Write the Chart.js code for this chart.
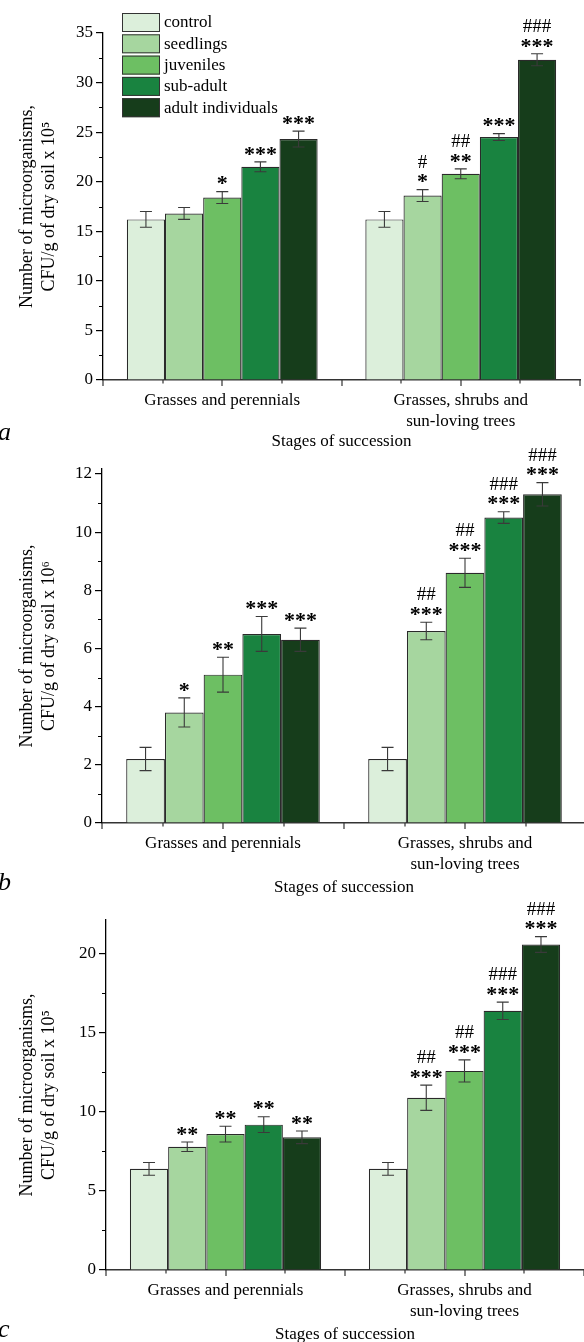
<!DOCTYPE html>
<html>
<head>
<meta charset="utf-8">
<script src="https://cdn.jsdelivr.net/npm/chart.js@4.4.0/dist/chart.umd.min.js"></script>
<style>
  html, body { margin: 0; padding: 0; background: #fff; }
  #page { position: relative; width: 584px; height: 1342px; overflow: hidden; background: #fff; }
  canvas { position: absolute; left: 0; }
</style>
</head>
<body>
<div id="page">
  <canvas id="chart-a" width="590" height="452" style="top:0px"></canvas>
  <canvas id="chart-b" width="590" height="450" style="top:448px"></canvas>
  <canvas id="chart-c" width="590" height="452" style="top:893px"></canvas>
</div>
<script>
const FONT = "'Liberation Serif', 'Times New Roman', serif";

const stages = ["Grasses and perennials", ["Grasses, shrubs and", "sun-loving trees"]];
const groups = ["control", "seedlings", "juveniles", "sub-adult", "adult individuals"];
const groupColors = ["#dcefdb", "#a6d69f", "#6dbf63", "#198340", "#163d1b"];

// panel a, x 10^5
const aTicks = [0, 5, 10, 15, 20, 25, 30, 35];
const aMeans = [[16.2, 16.2], [16.8, 18.6], [18.4, 20.8], [21.5, 24.5], [24.3, 32.3]];
const aErrors = [[0.8, 0.8], [0.6, 0.6], [0.6, 0.5], [0.5, 0.35], [0.8, 0.6]];
const aStars = [["", ""], ["", "*"], ["*", "**"], ["***", "***"], ["***", "***"]];
const aHashes = [["", ""], ["", "#"], ["", "##"], ["", ""], ["", "###"]];

// panel b, x 10^6
const bTicks = [0, 2, 4, 6, 8, 10, 12];
const bMeans = [[2.2, 2.2], [3.8, 6.6], [5.1, 8.6], [6.5, 10.5], [6.3, 11.3]];
const bErrors = [[0.4, 0.4], [0.5, 0.3], [0.6, 0.5], [0.6, 0.2], [0.4, 0.4]];
const bStars = [["", ""], ["*", "***"], ["**", "***"], ["***", "***"], ["***", "***"]];
const bHashes = [["", ""], ["", "##"], ["", "##"], ["", "###"], ["", "###"]];

// panel c, x 10^5
const cTicks = [0, 5, 10, 15, 20];
const cMeans = [[6.4, 6.4], [7.8, 10.9], [8.6, 12.6], [9.2, 16.4], [8.4, 20.6]];
const cErrors = [[0.4, 0.4], [0.3, 0.8], [0.5, 0.7], [0.5, 0.55], [0.4, 0.5]];
const cStars = [["", ""], ["**", "***"], ["**", "***"], ["**", "***"], ["**", "***"]];
const cHashes = [["", ""], ["", "##"], ["", "##"], ["", "###"], ["", "###"]];

const extrasPlugin = {
  id: "extras",
  afterDatasetsDraw(chart) {
    const p = chart.options.plugins.extras;
    const ctx = chart.ctx;
    const y = chart.scales.y;
    ctx.save();
    p.errors.forEach((errs, i) => {
      const meta = chart.getDatasetMeta(i);
      meta.data.forEach((bar, j) => {
        const v = chart.data.datasets[i].data[j];
        const top = y.getPixelForValue(v + errs[j]);
        const bot = y.getPixelForValue(v - errs[j]);
        ctx.strokeStyle = "#3a3a3a";
        ctx.lineWidth = 1.1;
        ctx.beginPath();
        ctx.moveTo(bar.x, top);
        ctx.lineTo(bar.x, bot);
        ctx.moveTo(bar.x - 6, top);
        ctx.lineTo(bar.x + 6, top);
        ctx.moveTo(bar.x - 6, bot);
        ctx.lineTo(bar.x + 6, bot);
        ctx.stroke();

        // significance marks
        ctx.fillStyle = "#000";
        ctx.textAlign = "center";
        ctx.textBaseline = "middle";
        ctx.font = "bold 22px " + FONT;
        if (p.stars[i][j]) ctx.fillText(p.stars[i][j], bar.x, top - 7);
        ctx.font = "19px " + FONT;
        if (p.hashes[i][j]) ctx.fillText(p.hashes[i][j], bar.x, top - 27);
      });
    });
    ctx.restore();
  },
  afterDraw(chart) {
    const p = chart.options.plugins.extras;
    const ctx = chart.ctx;
    const x = chart.scales.x;
    const y = chart.scales.y;
    ctx.save();

    // x ticks (major at centres and edges, minor in between)
    ctx.strokeStyle = "#333";
    ctx.lineWidth = 1.2;
    ctx.beginPath();
    [-0.5, -0.25, 0, 0.25, 0.5, 0.75, 1, 1.25, 1.5].forEach((t) => {
      const px = Math.round(x.getPixelForValue(t));
      const len = t % 0.5 === 0 ? 6 : 3.5;
      ctx.moveTo(px, y.bottom);
      ctx.lineTo(px, y.bottom + len);
    });
    ctx.stroke();

    // y minor ticks
    ctx.strokeStyle = "#000";
    ctx.beginPath();
    for (let v = p.minorStep; v < y.max; v += p.minorStep * 2) {
      const py = Math.round(y.getPixelForValue(v)) + 0.5;
      ctx.moveTo(y.right - 4, py);
      ctx.lineTo(y.right, py);
    }
    ctx.stroke();

    // legend inside panel a
    if (p.legend) {
      ctx.font = "17px " + FONT;
      ctx.textAlign = "left";
      ctx.textBaseline = "middle";
      chart.data.datasets.forEach((ds, i) => {
        const top = 13 + i * 21.3;
        ctx.fillStyle = ds.backgroundColor;
        ctx.fillRect(122, top, 38, 19);
        ctx.strokeStyle = "#333";
        ctx.lineWidth = 1;
        ctx.strokeRect(122.5, top + 0.5, 37, 18);
        ctx.fillStyle = "#000";
        ctx.fillText(ds.label, 164, top + 10);
      });
    }

    // panel letter
    ctx.font = "italic 26px " + FONT;
    ctx.fillStyle = "#000";
    ctx.textAlign = "left";
    ctx.textBaseline = "alphabetic";
    ctx.fillText(p.letter, -2, p.letterY);
    ctx.restore();
  },
};

function makeChart(id, cfg) {
  const canvas = document.getElementById(id);
  const datasets = groups.map((g, i) => ({
    label: g,
    data: cfg.means[i],
    backgroundColor: groupColors[i],
    borderColor: "#2a2a2a",
    borderWidth: 1.2,
    categoryPercentage: 0.8,
    barPercentage: 1.0,
  }));

  return new Chart(canvas.getContext("2d"), {
    type: "bar",
    data: { labels: stages, datasets },
    plugins: [extrasPlugin],
    options: {
      responsive: false,
      animation: false,
      devicePixelRatio: 1,
      layout: { padding: { top: cfg.area.top, left: 0, right: canvas.width - cfg.area.right, bottom: 0 } },
      plugins: {
        legend: { display: false },
        tooltip: { enabled: false },
        extras: {
          errors: cfg.errors,
          stars: cfg.stars,
          hashes: cfg.hashes,
          minorStep: cfg.minorStep,
          legend: cfg.legend,
          letter: cfg.letter,
          letterY: cfg.letterY,
        },
      },
      scales: {
        x: {
          type: "category",
          offset: true,
          grid: { display: false, drawTicks: false },
          border: { color: "#333", width: 1.5 },
          ticks: {
            color: "#000",
            font: { family: FONT, size: 17, lineHeight: 1.25 },
            padding: 10,
            maxRotation: 0,
            autoSkip: false,
          },
          title: {
            display: true,
            text: "Stages of succession",
            color: "#000",
            font: { family: FONT, size: 17, lineHeight: 1.2 },
            padding: 0,
          },
          afterFit: (s) => {
            s.height = canvas.height - cfg.area.bottom;
          },
        },
        y: {
          min: 0,
          max: cfg.yMax,
          afterBuildTicks: (s) => {
            s.ticks = cfg.ticks.map((v) => ({ value: v }));
          },
          grid: { drawOnChartArea: false, tickLength: 7, color: "#000", lineWidth: 1.2 },
          border: { color: "#000", width: 1.3 },
          ticks: { color: "#000", font: { family: FONT, size: 17 }, padding: 3 },
          title: {
            display: true,
            text: cfg.yTitle,
            color: "#000",
            font: { family: FONT, size: 18, lineHeight: 1.22 },
            padding: { top: 16, bottom: 0 },
          },
          afterFit: (s) => {
            s.width = cfg.area.left;
          },
        },
      },
    },
  });
}

makeChart("chart-a", {
  means: aMeans, errors: aErrors, stars: aStars, hashes: aHashes,
  ticks: aTicks, yMax: 35, minorStep: 2.5,
  yTitle: ["Number of microorganisms,", "CFU/g of dry soil x 10\u2075"],
  area: { left: 103, right: 580, top: 33, bottom: 380 },
  legend: true, letter: "a", letterY: 440,
});

makeChart("chart-b", {
  means: bMeans, errors: bErrors, stars: bStars, hashes: bHashes,
  ticks: bTicks, yMax: 12.17, minorStep: 1,
  yTitle: ["Number of microorganisms,", "CFU/g of dry soil x 10\u2076"],
  area: { left: 102, right: 586, top: 21, bottom: 375 },
  legend: false, letter: "b", letterY: 442,
});

makeChart("chart-c", {
  means: cMeans, errors: cErrors, stars: cStars, hashes: cHashes,
  ticks: cTicks, yMax: 22.15, minorStep: 2.5,
  yTitle: ["Number of microorganisms,", "CFU/g of dry soil x 10\u2075"],
  area: { left: 106, right: 584, top: 27, bottom: 377 },
  legend: false, letter: "c", letterY: 444,
});
</script>
</body>
</html>
